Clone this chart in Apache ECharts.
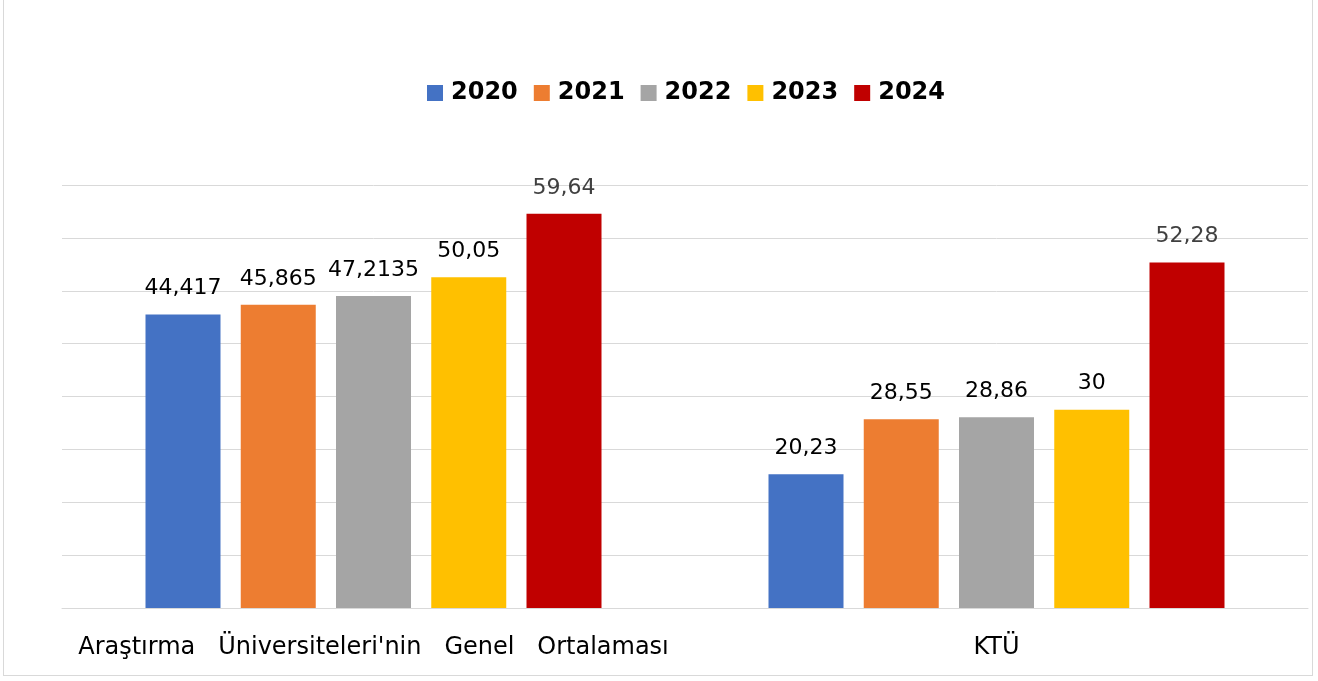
<!DOCTYPE html>
<html>
<head>
<meta charset="utf-8">
<script src="https://cdn.jsdelivr.net/npm/echarts@6/dist/echarts.min.js"></script>
<style>
  html, body { margin: 0; padding: 0; background: #fff; }
  #frame { position: absolute; left: 3px; top: 0; width: 1310px; height: 676px; border: 1px solid #d9d9d9; border-top: none; box-sizing: border-box; }
  #chart { width: 1318px; height: 681px; }
</style>
</head>
<body>
<div id="frame"></div>
<div id="chart"></div>
<script>
// kategoriler ve yıllara göre değerler
var categories = ["Araştırma Üniversiteleri'nin Genel Ortalaması", 'KTÜ'];
var years = ['2020', '2021', '2022', '2023', '2024'];
var v2020 = [44.417, 20.23];
var v2021 = [45.865, 28.55];
var v2022 = [47.2135, 28.86];
var v2023 = [50.05, 30];
var v2024 = [59.64, 52.28];
var colors = ['#4472c4', '#ed7d31', '#a5a5a5', '#ffc000', '#c00000'];

var allValues = [v2020, v2021, v2022, v2023, v2024];
var font = 'DejaVu Sans';

var chart = echarts.init(document.getElementById('chart'));

var series = years.map(function (y, i) {
  return {
    name: y,
    type: 'bar',
    data: allValues[i],
    barWidth: 75,
    barGap: '27%',
    itemStyle: { color: colors[i] },
    label: {
      show: true,
      position: 'top',
      distance: 15,
      fontFamily: font,
      fontSize: 22,
      color: i == 4 ? '#404040' : '#000',
      formatter: function (p) {
        return String(p.value).replace('.', ',');
      }
    }
  };
});

var option = {
  animation: false,
  color: colors,
  legend: {
    top: 76,
    left: 422,
    itemWidth: 16,
    itemHeight: 16,
    itemGap: 16,
    icon: 'rect',
    textStyle: { fontFamily: font, fontSize: 24, fontWeight: 'bold', color: '#000', padding: [0, 0, 0, 3] },
    data: years
  },
  grid: { left: 62, right: 10, top: 185, bottom: 73, containLabel: false },
  xAxis: {
    type: 'category',
    data: categories,
    axisTick: { show: false },
    axisLine: { lineStyle: { color: '#d9d9d9', width: 1 } },
    axisLabel: {
      interval: 0,
      margin: 28,
      fontFamily: font,
      fontSize: 24,
      color: '#000',
      formatter: function (s) { return s.split(' ').join('   '); }
    }
  },
  yAxis: {
    type: 'value',
    min: 0,
    max: 64,
    interval: 8,
    axisLabel: { show: false },
    axisLine: { show: false },
    axisTick: { show: false },
    splitLine: { lineStyle: { color: '#d9d9d9', width: 1 } }
  },
  series: series
};

chart.setOption(option);
</script>
</body>
</html>
